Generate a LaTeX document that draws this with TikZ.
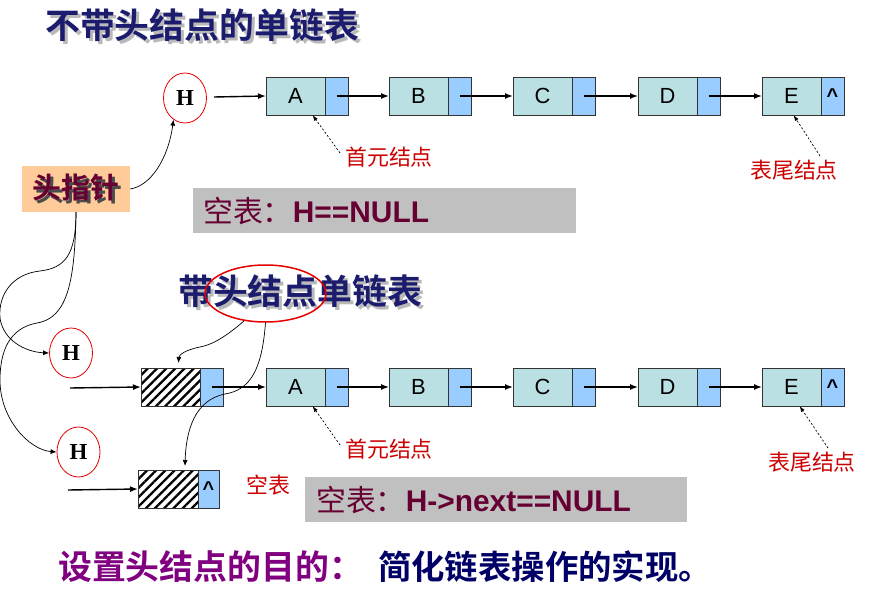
\documentclass[tikz,border=0pt]{standalone}
\usepackage{fontspec}
\setmainfont{Noto Sans CJK SC}[BoldFont={Noto Sans CJK SC Bold}]
\newfontfamily\arialf{Liberation Sans}
\newfontfamily\tnrf{Liberation Serif}
\usetikzlibrary{shapes.geometric,arrows.meta,patterns.meta}
\definecolor{navy}{RGB}{28,28,110}
\definecolor{maroon}{RGB}{102,0,51}
\definecolor{lred}{RGB}{204,0,0}
\definecolor{datac}{RGB}{187,224,227}
\definecolor{ptrc}{RGB}{153,204,255}
\definecolor{tzc}{RGB}{255,204,153}
\definecolor{grayb}{RGB}{192,192,192}
\definecolor{purp}{RGB}{128,0,128}
\definecolor{navyb}{RGB}{0,0,102}
\newcommand{\fsz}[1]{\fontsize{#1}{#1}\selectfont}
% text with a drop shadow, in one box
\newcommand{\shadowtxt}[3]{\makebox[0pt][l]{\hspace{3bp}\raisebox{-3bp}{\color{#1}#3}}{\color{#2}#3}}
\begin{document}
\begin{tikzpicture}[x=1bp,y=-1bp,
  databox/.style={draw=black!80, fill=datac, line width=0.8bp, minimum width=59bp, minimum height=38bp, inner sep=0pt, outer sep=0pt, anchor=west, font=\arialf\fsz{22}},
  ptrbox/.style={draw=black!80, fill=ptrc, line width=0.8bp, minimum width=23bp, minimum height=38bp, inner sep=0pt, outer sep=0pt, anchor=west, font=\arialf\bfseries\fsz{20}},
  hatchbox/.style={draw=black!80, line width=0.8bp, minimum width=59bp, minimum height=38bp, inner sep=0pt, outer sep=0pt, anchor=west, pattern={Lines[angle=45,distance=6.5bp,line width=2.3bp]}},
  hcirc/.style={ellipse, draw=red!90!black, line width=0.8bp, minimum width=43bp, minimum height=50bp, inner sep=0pt, font=\tnrf\bfseries\fsz{23}},
  arr/.style={-{Latex[length=8bp,width=6bp]}, line width=1.4bp},
  carr/.style={-{Latex[length=6bp,width=5bp]}, line width=0.7bp},
  darr/.style={-{Latex[length=6bp,width=4bp]}, dash pattern=on 2bp off 2bp, line width=0.7bp},
  redlab/.style={text=lred, font=\fsz{22}, inner sep=0pt},
  titlet/.style={font=\bfseries\fsz{35}, inner sep=0pt, anchor=west},
  graybox/.style={fill=grayb, draw=none},
  graytxt/.style={text=maroon, font=\fsz{30}, inner sep=0pt, anchor=west}
]
\useasboundingbox (0,0) rectangle (874,599);
\fill[white] (0,0) rectangle (874,599);

% ---------- title 1 ----------
\node[titlet] (t1) at (45,27) {\shadowtxt{gray!55}{navy}{不带头结点的单链表}};

% ---------- row 1 ----------
\node[hcirc] (H0) at (185,98) {H};
\node[databox] (A1) at (266,96) {A};
\node[ptrbox] (A1p) at (A1.east) {};
\node[databox] (B1) at (389,96) {B};
\node[ptrbox] (B1p) at (B1.east) {};
\node[databox] (C1) at (513,96) {C};
\node[ptrbox] (C1p) at (C1.east) {};
\node[databox] (D1) at (638,96) {D};
\node[ptrbox] (D1p) at (D1.east) {};
\node[databox] (E1) at (762,96) {E};
\node[ptrbox] (E1p) at (E1.east) {\^{}};
\coordinate (h0out) at (214,97);
\draw[arr] (h0out) -- (A1.west);
\draw[arr] (A1p.center) -- (B1.west);
\draw[arr] (B1p.center) -- (C1.west);
\draw[arr] (C1p.center) -- (D1.west);
\draw[arr] (D1p.center) -- (E1.west);

\node[redlab] (s1) at (389,157) {首元结点};
\coordinate (s1a) at (340,153);
\draw[darr] (s1a) -- ([xshift=17bp]A1.south);
\node[redlab] (w1) at (794,170) {表尾结点};
\coordinate (w1a) at (820,156);
\draw[darr] (w1a) -- ([xshift=2bp]E1.south);

% ---------- head pointer ----------
\node[fill=tzc, minimum width=108bp, minimum height=46bp, inner sep=0pt, font=\bfseries\fsz{29}] (tz) at (76,189) {\shadowtxt{black!70}{maroon}{头指针}};
\draw[carr] (tz.east) .. controls (150,186) and (168,160) .. (H0.242);

% ---------- gray box 1 ----------
\node[graybox, minimum width=383bp, minimum height=45bp, inner sep=0pt] (g1) at (384.5,210.5) {};
\node[graytxt] (g1t) at (203,211) {空表：\arialf\bfseries H==NULL};

% ---------- title 2 ----------
\node[titlet] (t2) at (178,293) {\shadowtxt{gray!55}{navy}{带头结点单链表}};
\node[ellipse, draw=red!90!black, line width=1.5bp, minimum width=121bp, minimum height=57bp, inner sep=0pt] (el) at (265.5,293.5) {};

% ---------- row 2 ----------
\node[hcirc] (H1) at (71,353) {H};
\node[hcirc] (H2) at (78.5,452) {H};
\node[hatchbox] (hd1) at (141,387) {};
\node[ptrbox] (hd1p) at (hd1.east) {};
\node[databox] (A2) at (266,387) {A};
\node[ptrbox] (A2p) at (A2.east) {};
\node[databox] (B2) at (389,387) {B};
\node[ptrbox] (B2p) at (B2.east) {};
\node[databox] (C2) at (513,387) {C};
\node[ptrbox] (C2p) at (C2.east) {};
\node[databox] (D2) at (638,387) {D};
\node[ptrbox] (D2p) at (D2.east) {};
\node[databox] (E2) at (762,387) {E};
\node[ptrbox] (E2p) at (E2.east) {\^{}};
\coordinate (in1) at (70,388);
\draw[arr] (in1) -- (hd1.west);
\draw[arr] (hd1p.center) -- (A2.west);
\draw[arr] (A2p.center) -- (B2.west);
\draw[arr] (B2p.center) -- (C2.west);
\draw[arr] (C2p.center) -- (D2.west);
\draw[arr] (D2p.center) -- (E2.west);

\node[redlab] (s2) at (389,449) {首元结点};
\coordinate (s2a) at (340,445);
\draw[darr] (s2a) -- ([xshift=17bp]A2.south);
\node[redlab] (w2) at (812,462) {表尾结点};
\coordinate (w2a) at (828,448);
\draw[darr] (w2a) -- ([xshift=8bp]E2.south);

% empty list with head node
\node[hatchbox, minimum width=60bp] (hd2) at (138,489) {};
\node[ptrbox, minimum width=21bp] (hd2p) at (hd2.east) {\^{}};
\coordinate (in2) at (68,490);
\draw[arr] (in2) -- (hd2.west);
\node[redlab] (kb) at (268,485) {空表};

% ---------- gray box 2 ----------
\node[graybox, minimum width=382bp, minimum height=45bp, inner sep=0pt] (g2) at (496,499.5) {};
\node[graytxt] (g2t) at (316,500) {空表：\arialf\bfseries H->next==NULL};

% ---------- curves ----------
\draw[carr] (tz.south) .. controls (76,255) and (65,268) .. (40,271) .. controls (12,274) and (-2,295) .. (0,318) .. controls (3,340) and (25,352) .. (H1.west);
\draw[carr] (tz.south) .. controls (75,280) and (68,318) .. (37,323) .. controls (10,328) and (0,350) .. (0,380) .. controls (0,420) and (30,450) .. (H2.west);
\draw[carr] (el.232) .. controls (222,340) and (210,345) .. (200,347) .. controls (185,350) and (179,355) .. ([xshift=8bp,yshift=5bp]hd1.north);
\draw[carr] (el.south) .. controls (262,370) and (250,390) .. (225,394) .. controls (195,400) and (186,430) .. ([xshift=17bp,yshift=4bp]hd2.north);

% ---------- bottom text ----------
\node[text=purp, font=\bfseries\fsz{34}, inner sep=0pt, anchor=west] (b1) at (58,567) {设置头结点的目的：};
\node[text=navyb, font=\bfseries\fsz{33.5}, inner sep=0pt, anchor=west] (b2) at (378,567) {简化链表操作的实现。};
\end{tikzpicture}
\end{document}
